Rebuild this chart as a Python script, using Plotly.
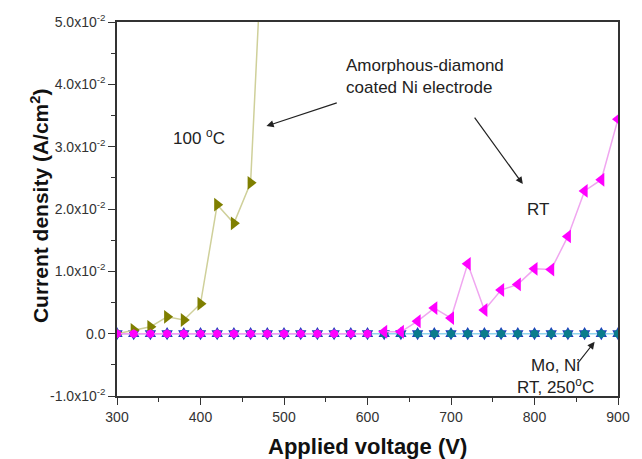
import plotly.graph_objects as go

# ---- data ----
v_100c = [300, 320, 340, 360, 380, 400, 420, 440, 460, 480]
j_100c = [0.0, 0.0006, 0.0011, 0.0027, 0.0022, 0.0048, 0.0207, 0.0177, 0.0242, 0.080]

v_rt = [620, 640, 660, 680, 700, 720, 740, 760, 780, 800, 820, 840, 860, 880, 900]
j_rt = [0.0003, 0.0003, 0.0020, 0.0041, 0.0025, 0.0112, 0.0038, 0.0070, 0.0079,
        0.0104, 0.0103, 0.0156, 0.0229, 0.0247, 0.0344]

v_zero = list(range(300, 901, 20))
j_mo = [0.0] * len(v_zero)
j_ni = [0.0] * len(v_zero)
v_rt_low = list(range(300, 601, 20))
j_rt_low = [0.0] * len(v_rt_low)

x_ticks = [300, 400, 500, 600, 700, 800, 900]
y_ticks = [-0.01, 0.0, 0.01, 0.02, 0.03, 0.04, 0.05]
y_ticktext = ["-1.0x10<sup>-2</sup>", "0.0", "1.0x10<sup>-2</sup>", "2.0x10<sup>-2</sup>",
              "3.0x10<sup>-2</sup>", "4.0x10<sup>-2</sup>", "5.0x10<sup>-2</sup>"]

fig = go.Figure()

# Mo (blue hexagram) and Ni (teal hexagon) at zero
fig.add_trace(go.Scatter(x=v_zero, y=j_mo, mode="lines+markers",
                         line=dict(color="#8fd3ee", width=1.5),
                         marker=dict(symbol="hexagram", size=10, color="#1f3fbf"),
                         showlegend=False))
fig.add_trace(go.Scatter(x=v_zero, y=j_ni, mode="markers",
                         marker=dict(symbol="hexagon", size=9, color="#0a7c8c"),
                         showlegend=False))
# olive 100 C
fig.add_trace(go.Scatter(x=v_100c, y=j_100c, mode="lines+markers",
                         line=dict(color="#cfd09a", width=1.5),
                         marker=dict(symbol="triangle-right", size=12, color="#7f7f00"),
                         showlegend=False))
# magenta RT low part
fig.add_trace(go.Scatter(x=v_rt_low, y=j_rt_low, mode="lines+markers",
                         line=dict(color="#f59af5", width=1.5),
                         marker=dict(symbol="hexagon", size=9, color="#ff00ff"),
                         showlegend=False))
# magenta RT
fig.add_trace(go.Scatter(x=v_rt, y=j_rt, mode="lines+markers",
                         line=dict(color="#f0a6f0", width=1.5),
                         marker=dict(symbol="triangle-left", size=12, color="#ff00ff"),
                         showlegend=False))

axis_common = dict(showline=True, linecolor="#333333", linewidth=1.5, mirror=True,
                   showgrid=False, zeroline=False, ticks="outside", ticklen=7,
                   tickwidth=1.2, tickcolor="#333333",
                   tickfont=dict(family="Liberation Sans, Arial", size=14, color="#333333"))

fig.update_xaxes(range=[300, 900], tickmode="array", tickvals=x_ticks,
                 minor=dict(tickmode="linear", tick0=350, dtick=100, ticks="outside",
                            ticklen=4, tickcolor="#333333", tickwidth=1.2),
                 **axis_common)
fig.update_yaxes(range=[-0.01, 0.05], tickmode="array", tickvals=y_ticks,
                 ticktext=y_ticktext,
                 minor=dict(tickmode="linear", tick0=-0.005, dtick=0.01, ticks="outside",
                            ticklen=4, tickcolor="#333333", tickwidth=1.2),
                 **axis_common)

font_txt = dict(family="Liberation Sans, Arial", size=17, color="#222222")
font_title = dict(family="Liberation Sans, Arial", size=21, color="#111111")

annotations = [
    # axis titles
    dict(text="<b>Applied voltage (V)</b>", xref="paper", yref="paper",
         x=0.5, y=-0.135, xanchor="center", yanchor="middle", showarrow=False,
         font=dict(family="Liberation Sans, Arial", size=22, color="#111111")),
    dict(text="<b>Current density (A/cm<sup>2</sup>)</b>", xref="paper", yref="paper",
         x=-0.154, y=0.51, xanchor="center", yanchor="middle", showarrow=False,
         textangle=-90, font=font_title),
    # labels
    dict(text="Amorphous-diamond<br>coated Ni electrode", xref="x", yref="y",
         x=572, y=0.0412, xanchor="left", yanchor="middle", align="left",
         showarrow=False, font=font_txt),
    dict(text="100 <sup>o</sup>C", xref="x", yref="y", x=398, y=0.0315,
         xanchor="center", yanchor="middle", showarrow=False, font=font_txt),
    dict(text="RT", xref="x", yref="y", x=804, y=0.0199,
         xanchor="center", yanchor="middle", showarrow=False, font=font_txt),
    dict(text="Mo, Ni<br>RT, 250<sup>o</sup>C", xref="x", yref="y", x=825, y=-0.0068,
         xanchor="center", yanchor="middle", align="center",
         showarrow=False, font=font_txt),
    # arrows
    dict(x=479, y=0.0333, ax=565, ay=0.0371, xref="x", yref="y", axref="x", ayref="y",
         text="", showarrow=True, arrowhead=2, arrowsize=1.2, arrowwidth=1.2,
         arrowcolor="#222222"),
    dict(x=786, y=0.0240, ax=727, ay=0.0349, xref="x", yref="y", axref="x", ayref="y",
         text="", showarrow=True, arrowhead=2, arrowsize=1.2, arrowwidth=1.2,
         arrowcolor="#222222"),
    dict(x=872, y=-0.0013, ax=851, ay=-0.0049, xref="x", yref="y", axref="x", ayref="y",
         text="", showarrow=True, arrowhead=2, arrowsize=1.2, arrowwidth=1.2,
         arrowcolor="#222222"),
]

fig.update_layout(width=642, height=459, margin=dict(l=117, r=12, t=16, b=63),
                  plot_bgcolor="white", paper_bgcolor="white",
                  annotations=annotations, showlegend=False)

fig.write_html("out.html")
